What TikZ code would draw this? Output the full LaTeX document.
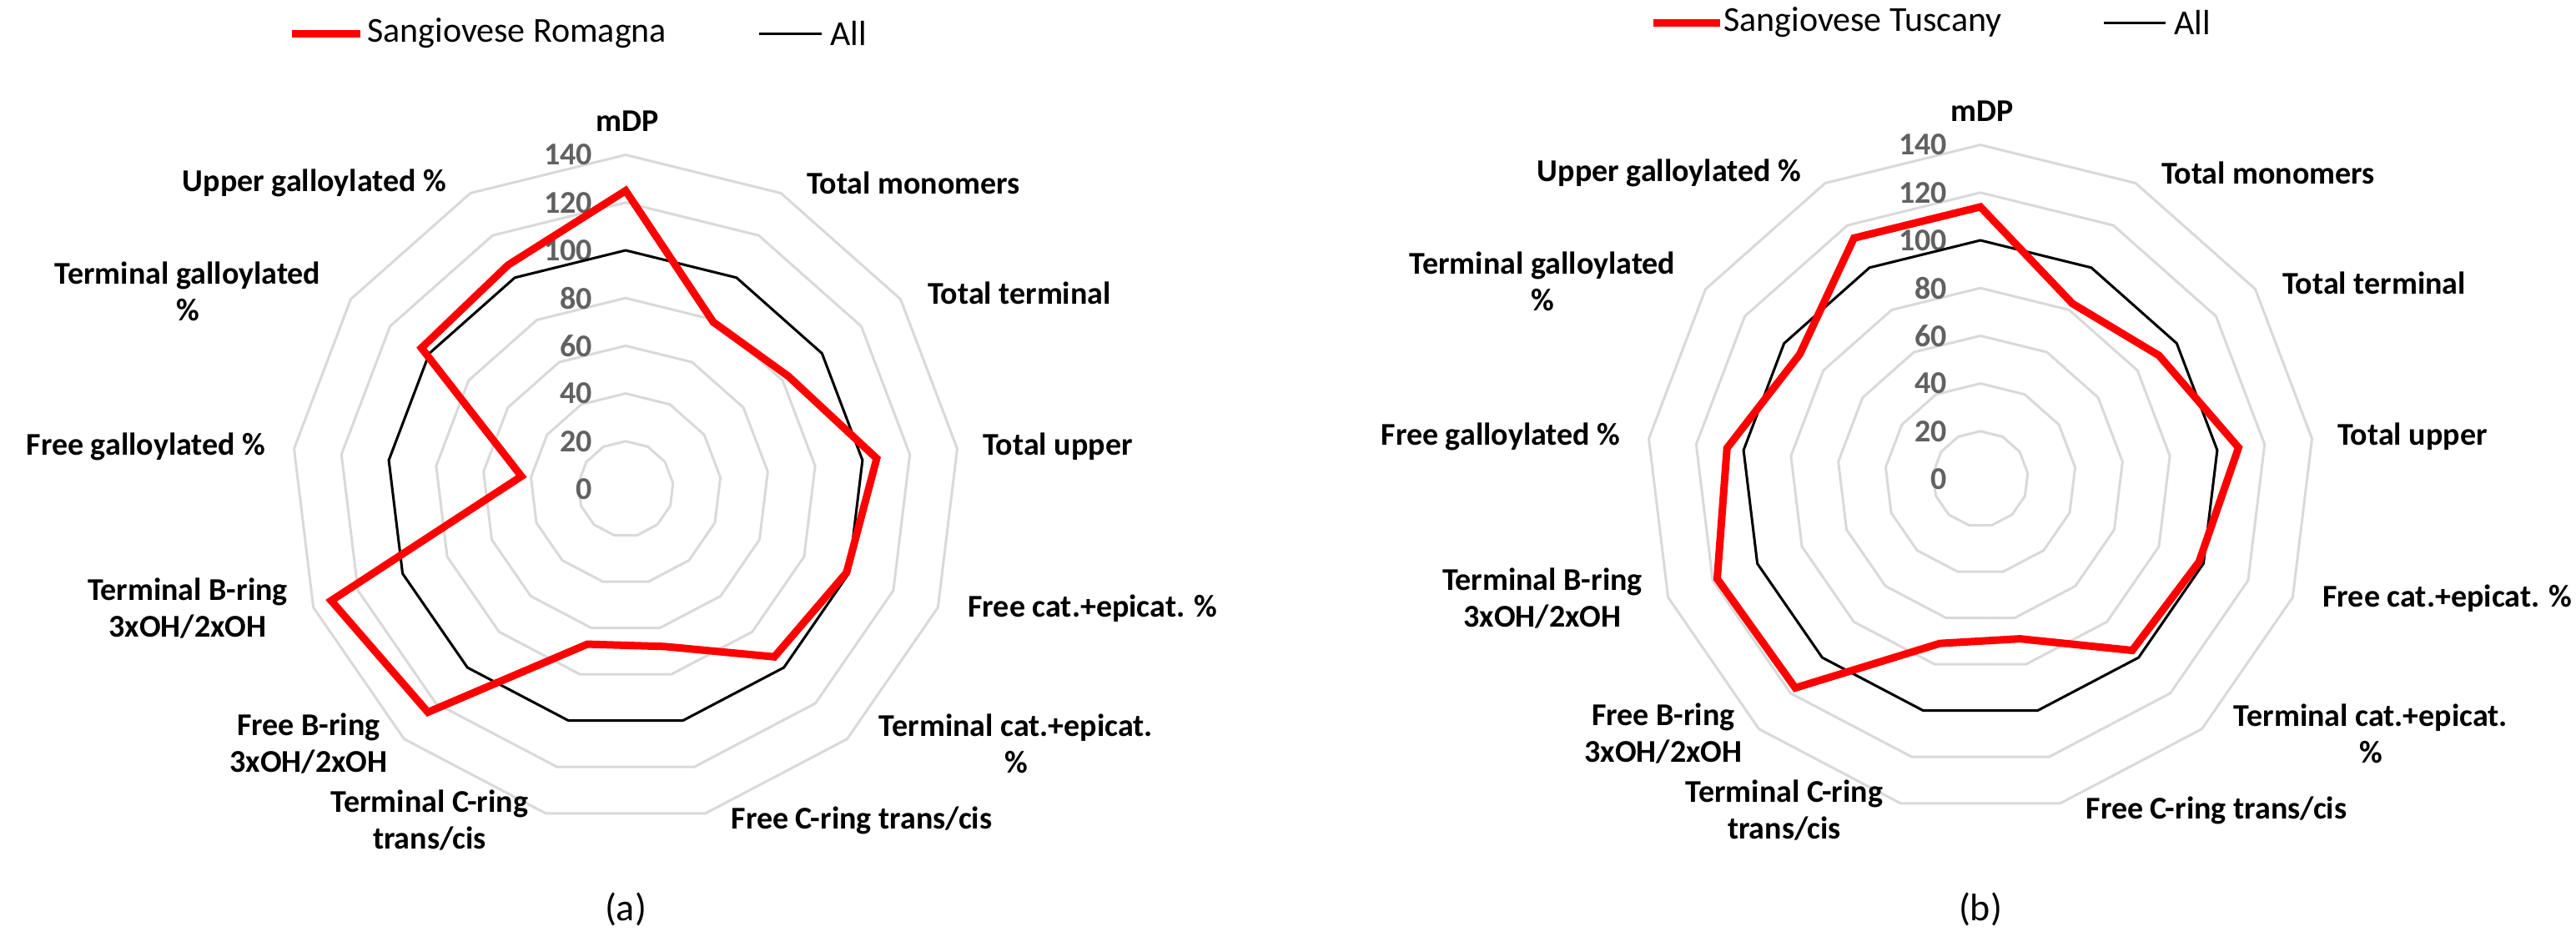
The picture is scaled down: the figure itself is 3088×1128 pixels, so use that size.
\documentclass[tikz,border=0pt]{standalone}
\usepackage{fontspec}
\setmainfont{Carlito}
\begin{document}
\begin{tikzpicture}[x=1pt,y=-1pt,
  grid/.style={draw=black!15,line width=3pt},
  allline/.style={draw=black,line width=3pt,line join=round},
  dataline/.style={draw=red,line width=9pt,line join=miter},
  axlab/.style={font=\fontsize{38}{44}\selectfont\bfseries,align=center},
  ticklab/.style={font=\fontsize{38}{44}\selectfont\bfseries,text=black!62,anchor=east,inner sep=0pt},
  leg/.style={font=\fontsize{42}{48}\selectfont,anchor=west,inner sep=0pt},
  captxt/.style={font=\fontsize{46}{52}\selectfont}]
\useasboundingbox (0,0) rectangle (3088,1128);
\def\u{2.86}
\newcommand{\radarchart}[4]{% cx, cy, values, prefix
  \foreach \k in {1,...,7}{
    \foreach \i in {0,...,12}{
      \coordinate (#4g\k-\i) at ({#1+\k*20*\u*sin(\i*360/13)},{#2-\k*20*\u*cos(\i*360/13)});
    }
    \draw[grid] (#4g\k-0) \foreach \i in {1,...,12}{-- (#4g\k-\i)} -- cycle;
  }
  \foreach \v [count=\k from 0] in {0,20,...,140}{
    \node[ticklab] (#4t\k) at ({#1-40},{#2-\v*\u}) {\v};
  }
  \foreach \i in {0,...,12}{
    \coordinate (#4a-\i) at ({#1+100*\u*sin(\i*360/13)},{#2-100*\u*cos(\i*360/13)});
  }
  \draw[allline] (#4a-0) \foreach \i in {1,...,12}{-- (#4a-\i)} -- cycle;
  \foreach \v [count=\i from 0] in {#3}{
    \coordinate (#4d-\i) at ({#1+\v*\u*sin(\i*360/13)},{#2-\v*\u*cos(\i*360/13)});
  }
  \draw[dataline] (#4d-0) \foreach \i in {1,...,12}{-- (#4d-\i)} -- cycle;
  \node[axlab] (#4l0) at (#1+2,#2-441) {mDP};
  \node[axlab] (#4l1) at (#1+345,#2-367) {Total monomers};
  \node[axlab] (#4l2) at (#1+472,#2-235) {Total terminal};
  \node[axlab] (#4l3) at (#1+518,#2-51) {Total upper};
  \node[axlab] (#4l4) at (#1+560,#2+143) {Free cat.+epicat. \%};
  \node[axlab] (#4l5) at (#1+468,#2+305) {Terminal cat.+epicat.\\\%};
  \node[axlab] (#4l6) at (#1+283,#2+397) {Free C-ring trans/cis};
  \node[axlab] (#4l7) at (#1-235,#2+397) {Terminal C-ring\\trans/cis};
  \node[axlab] (#4l8) at (#1-380,#2+305) {Free B-ring\\3xOH/2xOH};
  \node[axlab] (#4l9) at (#1-525,#2+143) {Terminal B-ring\\3xOH/2xOH};
  \node[axlab] (#4l10) at (#1-575,#2-51) {Free galloylated \%};
  \node[axlab] (#4l11) at (#1-525,#2-237) {Terminal galloylated\\\%};
  \node[axlab] (#4l12) at (#1-373,#2-367) {Upper galloylated \%};
}
\radarchart{750}{586}{125,79,83,106,99,94,68,67,125,132,44,104,106}{A}
\radarchart{2374}{574}{114,83,91,109,98,96,69,71,117,118,107,92,114}{B}
% legends
\coordinate (la1) at (350,40); \coordinate (la2) at (432,40);
\draw[red,line width=9pt] (la1) -- (la2);
\node[leg] (lat) at (440,40) {Sangiovese Romagna};
\coordinate (lb1) at (910,40); \coordinate (lb2) at (985,40);
\draw[black,line width=3pt] (lb1) -- (lb2);
\node[leg] (lbt) at (995,40) {All};
\coordinate (ma1) at (1982,27); \coordinate (ma2) at (2062,27);
\draw[red,line width=9pt] (ma1) -- (ma2);
\node[leg] (mat) at (2066,27) {Sangiovese Tuscany};
\coordinate (mb1) at (2522,27); \coordinate (mb2) at (2596,27);
\draw[black,line width=3pt] (mb1) -- (mb2);
\node[leg] (mbt) at (2606,27) {All};
\node[captxt] (capa) at (750,1090) {(a)};
\node[captxt] (capb) at (2374,1090) {(b)};
\end{tikzpicture}
\end{document}
